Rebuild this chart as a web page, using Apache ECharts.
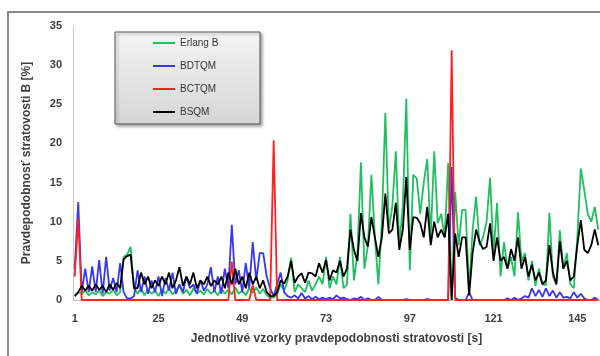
<!DOCTYPE html>
<html>
<head>
<meta charset="utf-8">
<script src="https://cdn.jsdelivr.net/npm/echarts@6/dist/echarts.min.js"></script>
<style>
  html, body { margin: 0; padding: 0; background: #fff; }
  #main { width: 600px; height: 356px; }
</style>
</head>
<body>
<div id="main"></div>
<script>
// vzorky 1..151
var samples = [];
for (var i = 1; i <= 151; i++) samples.push(String(i));

var seriesNames = ['Erlang B', 'BDTQM', 'BCTQM', 'BSQM'];

var erlangB = [
  0.5, 1, 0.8, 1.2, 0.6, 1, 0.7, 1.2, 0.5, 1,
  0.8, 1.3, 0.6, 1, 5.5, 5.8, 6.8, 1.5, 0.8, 1.5,
  0.6, 1.3, 0.8, 1.2, 0.5, 1.4, 0.8, 1.5, 0.7, 1.2,
  1.8, 0.8, 1.3, 0.6, 1.5, 0.8, 1.2, 0.7, 1.4, 0.8,
  1.2, 0.6, 1.5, 0.8, 1.3, 0.7, 1.6, 0.8, 1.2, 0.6,
  1.5, 0.9, 1.6, 0.8, 1.4, 0.6, 0.3, 0.3, 0.8, 2,
  1.2, 2.5, 5.4, 1, 2, 1.5, 1, 2.5, 1.2, 2,
  3, 2, 5.5, 1.5, 3, 2, 5.5, 1.5, 2, 11,
  2.5, 6, 17.6, 4, 7, 16, 8, 2, 10, 23.9,
  9, 12, 19, 7, 12, 25.7, 3.8, 16, 15.5, 11,
  15, 18, 8, 19, 9.8, 11, 8, 17.5, 0, 13.8,
  7, 11.5, 11.5, 1.3, 9, 13.2, 7, 8, 10, 15.6,
  6, 12.4, 3, 7.4, 4, 5.5, 3, 11.2, 5, 6,
  2.5, 5, 1.8, 4, 2, 1.9, 11.1, 3, 2, 8.9,
  4, 6, 2, 1.5, 8, 16.8, 14, 11, 10, 11.9,
  9
];

var bdtqm = [
  4, 12.5, 1, 4, 1, 4.3, 1, 5.1, 0.8, 5.5,
  1.2, 2.8, 1, 4.7, 1, 0.2, 0.2, 0.5, 3.8, 1,
  3, 0.8, 2.5, 1, 3, 0.5, 2.8, 1.2, 3.5, 0.8,
  2, 1, 3, 1.5, 2, 0.8, 2.5, 1.2, 2, 4.2,
  1, 3, 0.8, 4, 1.5, 9.6, 2, 3.8, 1, 4.7,
  1.5, 7.4, 2.5, 6, 6, 3, 1.5, 0.5, 2, 3.5,
  1, 0.5, 0.3, 0.6, 0.2, 0.9, 0.2, 0.5, 0.1, 0.4,
  0.1, 0.3, 0.1, 0.3, 0.1, 0.6, 0.2, 0.3, 0.1, 0,
  0.2, 0.1, 0.4, 0, 0.2, 0, 0, 0.4, 0, 0,
  0, 0, 0, 0, 0, 0.1, 0, 0, 0, 0,
  0, 0.1, 0, 0, 0, 0, 0, 0, 17, 0.3,
  0, 0, 0, 1, 0, 0, 0, 0, 0, 0,
  0, 0, 0, 0, 0.2, 0, 0.3, 0, 0.2, 0.5,
  0.3, 1.5, 0.5, 1.3, 0.4, 1.5, 0.5, 1.2, 0.3, 1,
  0.3, 0.4, 0.2, 1, 0.3, 0.8, 0.2, 0, 0, 0.3,
  0
];

var bctqm = [
  3, 10.5, 0, 0, 0, 0, 0, 0, 0, 0,
  0, 0, 0, 0, 0, 0, 0, 0, 0, 0,
  0, 0, 0, 0, 0, 0, 0, 0, 0, 0,
  0, 0, 0, 0, 0, 0, 0, 0, 0, 0,
  0, 0, 0, 0, 0, 4.9, 0, 0, 0, 0,
  0, 1.9, 0, 0, 0, 0, 0, 20.4, 0, 0,
  0, 0, 0, 0, 0, 0, 0, 0, 0, 0,
  0, 0, 0, 0, 0, 0, 0, 0, 0, 0,
  0, 0, 0, 0, 0, 0, 0, 0, 0, 0,
  0, 0, 0, 0, 0, 0, 0, 0, 0, 0,
  0, 0, 0, 0, 0, 0, 0, 0, 31.9, 0,
  0, 0, 0, 0, 0, 0, 0, 0, 0, 0,
  0, 0, 0, 0, 0, 0, 0, 0, 0, 0,
  0, 0, 0, 0, 0, 0, 0, 0, 0, 0,
  0, 0, 0, 0, 0, 0, 0, 0, 0, 0,
  0
];

var bsqm = [
  0.5, 1, 1.8, 1.2, 1.8, 1.2, 2, 1.3, 1.8, 1,
  2, 1.3, 2.2, 1.5, 5.2, 5.6, 5.8, 1.5, 1.5, 3.5,
  2, 3, 1.5, 2.5, 1.8, 3, 2, 3.5, 1.5, 2.5,
  4.2, 1.8, 3, 2, 3.5, 1.5, 2.5, 2, 3, 1.8,
  2.5, 2, 3, 1.5, 3.5, 2, 4, 2, 3, 1.5,
  3.5, 2, 3, 1.5, 2.5, 1, 0.5, 0.5, 1, 2.5,
  2.1, 3, 5, 2.2, 3, 3.4, 2.2, 3.5, 3.4, 3,
  4.7, 3.5, 5.1, 2.5, 3.8, 3.5, 5, 3, 4, 9,
  6.4, 5, 11.1, 8, 6.8, 10.6, 8, 5.5, 8, 13.6,
  8.5, 9, 12.4, 6.4, 9, 15.7, 6.4, 10.6, 10.5, 9.8,
  8, 11.9, 7, 10, 8, 9, 8, 11, 0, 8.5,
  5.5, 8, 8, 0.6, 6, 9, 7.4, 6.5, 6.8, 9.8,
  5, 8, 5, 5.5, 4, 6.5, 5, 8, 4, 5.5,
  3, 4.5, 2.5, 3.5, 2, 2.5, 7, 3.5, 2, 7.5,
  4, 5, 2.5, 3, 7, 10.2, 6.4, 6, 7, 9,
  7
];

var colors = ['#22bf62', '#3a35f0', '#ff2020', '#000000'];
var values = [erlangB, bdtqm, bctqm, bsqm];

var myChart = echarts.init(document.getElementById('main'), null, { renderer: 'canvas' });

var series = [];
for (var s = 0; s < seriesNames.length; s++) {
  series.push({
    name: seriesNames[s],
    type: 'line',
    data: values[s],
    symbol: 'none',
    animation: false,
    z: 2 + s,
    lineStyle: { width: 1.8, color: colors[s] },
    itemStyle: { color: colors[s] }
  });
}

var option = {
  animation: false,
  backgroundColor: '#fff',
  color: colors,
  graphic: [
    {
      type: 'rect',
      z: 0,
      shape: { x: 8, y: 12, width: 620, height: 400 },
      style: { fill: null, stroke: '#8a8a8a', lineWidth: 2 }
    },
    {
      type: 'rect',
      z: 10,
      shape: { x: 115, y: 32, width: 145, height: 92 },
      style: {
        fill: new echarts.graphic.LinearGradient(0, 0, 0, 1, [
          { offset: 0, color: '#f4f4f4' },
          { offset: 1, color: '#d6d6d6' }
        ]),
        stroke: '#555',
        lineWidth: 1,
        shadowBlur: 3,
        shadowOffsetX: 2,
        shadowOffsetY: 2,
        shadowColor: 'rgba(0,0,0,0.35)'
      }
    }
  ],
  legend: {
    data: seriesNames,
    orient: 'vertical',
    left: 148,
    top: 32,
    z: 20,
    icon: 'rect',
    itemWidth: 22,
    itemHeight: 2,
    itemGap: 11,
    textStyle: { fontFamily: 'Liberation Sans', fontSize: 10, color: '#333', lineHeight: 12 }
  },
  grid: { left: 73, top: 26, width: 529, height: 274 },
  xAxis: {
    type: 'category',
    data: samples,
    boundaryGap: true,
    name: 'Jednotlivé vzorky pravdepodobnosti stratovosti [s]',
    nameLocation: 'middle',
    nameGap: 33,
    nameTextStyle: { fontFamily: 'Liberation Sans', fontSize: 12, fontWeight: 'bold', color: '#404040' },
    axisLine: { lineStyle: { color: '#c8c8c8' } },
    axisTick: { show: false },
    axisLabel: {
      interval: 23,
      margin: 13,
      fontFamily: 'Liberation Sans',
      fontSize: 11,
      fontWeight: 'bold',
      color: '#404040'
    },
    splitLine: { show: false }
  },
  yAxis: {
    type: 'value',
    min: 0,
    max: 35,
    interval: 5,
    name: 'Pravdepodobnosť stratovosti B [%]',
    nameLocation: 'middle',
    nameGap: 40,
    nameTextStyle: { fontFamily: 'Liberation Sans', fontSize: 12, fontWeight: 'bold', color: '#404040' },
    axisLine: { show: true, lineStyle: { color: '#c8c8c8' } },
    axisTick: { show: false },
    axisLabel: {
      margin: 11,
      fontFamily: 'Liberation Sans',
      fontSize: 11,
      fontWeight: 'bold',
      color: '#404040'
    },
    splitLine: { show: false }
  },
  series: series
};

myChart.setOption(option);
</script>
</body>
</html>
